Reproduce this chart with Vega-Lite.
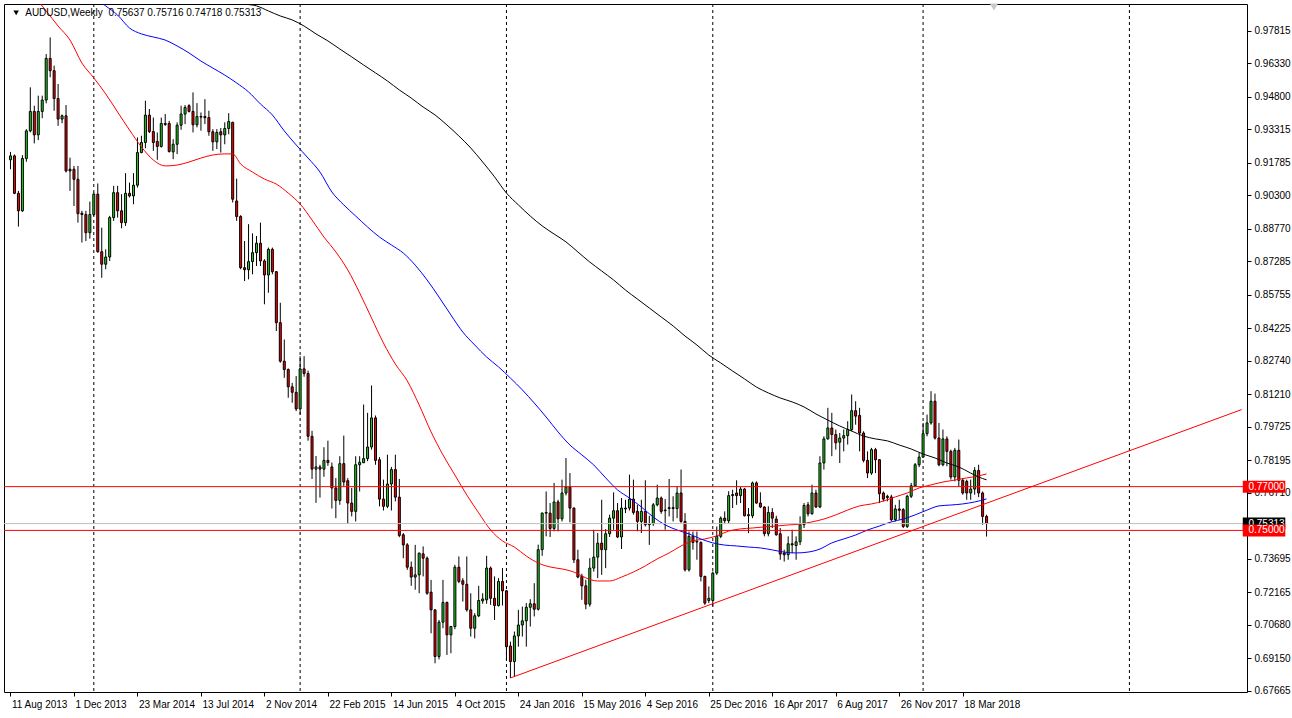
{
"$schema":"https://vega.github.io/schema/vega-lite/v6.json",
"width":1243,"height":688,
"autosize":{"type":"none"},
"padding":{"left":4,"top":4,"right":45,"bottom":26},
"background":"white",
"resolve":{"axis":{"x":"independent","y":"independent"}},
"config":{"view":{"stroke":"#000000","strokeWidth":1},"font":"Liberation Sans",
"axis":{"labelFont":"Liberation Sans","labelFontSize":10,"labelColor":"#000000","tickColor":"#000000","domain":false,"grid":false,"title":null}},
"datasets":{
"candles":[
{"d":"2013-08-11","o":0.9193,"h":0.9229,"l":0.915,"c":0.9211},
{"d":"2013-08-18","o":0.9211,"h":0.9217,"l":0.9036,"c":0.904},
{"d":"2013-08-25","o":0.904,"h":0.9051,"l":0.8888,"c":0.896},
{"d":"2013-09-01","o":0.896,"h":0.9214,"l":0.8955,"c":0.9199},
{"d":"2013-09-08","o":0.9199,"h":0.9333,"l":0.9184,"c":0.9325},
{"d":"2013-09-15","o":0.9325,"h":0.9524,"l":0.9318,"c":0.9414},
{"d":"2013-09-22","o":0.9414,"h":0.944,"l":0.9268,"c":0.9307},
{"d":"2013-09-29","o":0.9307,"h":0.9486,"l":0.9283,"c":0.9414},
{"d":"2013-10-06","o":0.9414,"h":0.9486,"l":0.9383,"c":0.9466},
{"d":"2013-10-13","o":0.9466,"h":0.9676,"l":0.9451,"c":0.9656},
{"d":"2013-10-20","o":0.9656,"h":0.9752,"l":0.957,"c":0.96},
{"d":"2013-10-27","o":0.96,"h":0.9623,"l":0.9417,"c":0.9473},
{"d":"2013-11-03","o":0.9473,"h":0.9539,"l":0.9348,"c":0.9379},
{"d":"2013-11-10","o":0.9379,"h":0.94,"l":0.936,"c":0.9394},
{"d":"2013-11-17","o":0.9394,"h":0.9443,"l":0.9135,"c":0.9142},
{"d":"2013-11-24","o":0.915,"h":0.9203,"l":0.9051,"c":0.9142},
{"d":"2013-12-01","o":0.915,"h":0.9165,"l":0.8982,"c":0.9104},
{"d":"2013-12-08","o":0.9104,"h":0.9165,"l":0.8906,"c":0.8947},
{"d":"2013-12-15","o":0.8949,"h":0.896,"l":0.8815,"c":0.8943},
{"d":"2013-12-22","o":0.8943,"h":0.896,"l":0.8822,"c":0.886},
{"d":"2013-12-29","o":0.886,"h":0.9002,"l":0.8833,"c":0.8943},
{"d":"2014-01-05","o":0.8943,"h":0.9043,"l":0.8937,"c":0.9036},
{"d":"2014-01-12","o":0.9036,"h":0.9085,"l":0.8769,"c":0.8773},
{"d":"2014-01-19","o":0.8773,"h":0.8883,"l":0.8654,"c":0.8716},
{"d":"2014-01-26","o":0.8716,"h":0.8784,"l":0.8693,"c":0.8749},
{"d":"2014-02-02","o":0.8749,"h":0.8937,"l":0.8731,"c":0.8929},
{"d":"2014-02-09","o":0.8929,"h":0.9074,"l":0.8914,"c":0.9043},
{"d":"2014-02-16","o":0.9043,"h":0.9074,"l":0.8929,"c":0.896},
{"d":"2014-02-23","o":0.896,"h":0.9036,"l":0.888,"c":0.8906},
{"d":"2014-03-02","o":0.8906,"h":0.9132,"l":0.8891,"c":0.904},
{"d":"2014-03-09","o":0.904,"h":0.9089,"l":0.9021,"c":0.9028},
{"d":"2014-03-16","o":0.9028,"h":0.9132,"l":0.899,"c":0.9077},
{"d":"2014-03-23","o":0.9077,"h":0.9295,"l":0.9066,"c":0.9226},
{"d":"2014-03-30","o":0.9226,"h":0.9303,"l":0.9223,"c":0.9272},
{"d":"2014-04-06","o":0.9272,"h":0.9463,"l":0.9246,"c":0.9397},
{"d":"2014-04-13","o":0.9397,"h":0.9425,"l":0.9315,"c":0.9322},
{"d":"2014-04-20","o":0.9322,"h":0.9386,"l":0.9234,"c":0.9272},
{"d":"2014-04-27","o":0.9277,"h":0.9318,"l":0.9193,"c":0.9254},
{"d":"2014-05-04","o":0.9254,"h":0.9386,"l":0.9249,"c":0.9359},
{"d":"2014-05-11","o":0.9354,"h":0.9402,"l":0.9348,"c":0.9359},
{"d":"2014-05-18","o":0.9359,"h":0.9371,"l":0.9226,"c":0.9231},
{"d":"2014-05-25","o":0.9229,"h":0.9287,"l":0.9196,"c":0.9264},
{"d":"2014-06-01","o":0.9264,"h":0.9364,"l":0.9219,"c":0.9351},
{"d":"2014-06-08","o":0.9351,"h":0.944,"l":0.933,"c":0.9402},
{"d":"2014-06-15","o":0.9402,"h":0.9443,"l":0.9356,"c":0.9432},
{"d":"2014-06-22","o":0.944,"h":0.9447,"l":0.9409,"c":0.9414},
{"d":"2014-06-29","o":0.9414,"h":0.9501,"l":0.9318,"c":0.9353},
{"d":"2014-07-06","o":0.9353,"h":0.9452,"l":0.9341,"c":0.9391},
{"d":"2014-07-13","o":0.9388,"h":0.9409,"l":0.9326,"c":0.9391},
{"d":"2014-07-20","o":0.9391,"h":0.947,"l":0.9356,"c":0.9385},
{"d":"2014-07-27","o":0.9386,"h":0.9417,"l":0.9303,"c":0.9321},
{"d":"2014-08-03","o":0.9321,"h":0.9333,"l":0.9234,"c":0.9275},
{"d":"2014-08-10","o":0.9275,"h":0.9333,"l":0.9242,"c":0.9318},
{"d":"2014-08-17","o":0.9321,"h":0.9338,"l":0.9226,"c":0.9307},
{"d":"2014-08-24","o":0.9307,"h":0.9364,"l":0.9264,"c":0.9336},
{"d":"2014-08-31","o":0.9336,"h":0.9406,"l":0.931,"c":0.9368},
{"d":"2014-09-07","o":0.9364,"h":0.9367,"l":0.8998,"c":0.9013},
{"d":"2014-09-14","o":0.9005,"h":0.9107,"l":0.8914,"c":0.8934},
{"d":"2014-09-21","o":0.8934,"h":0.894,"l":0.8693,"c":0.87},
{"d":"2014-09-28","o":0.87,"h":0.8822,"l":0.8639,"c":0.8691},
{"d":"2014-10-05","o":0.8691,"h":0.8899,"l":0.8647,"c":0.8728},
{"d":"2014-10-12","o":0.8728,"h":0.8857,"l":0.867,"c":0.8769},
{"d":"2014-10-19","o":0.8769,"h":0.8845,"l":0.8708,"c":0.8812},
{"d":"2014-10-26","o":0.8812,"h":0.8906,"l":0.8708,"c":0.8731},
{"d":"2014-11-02","o":0.8731,"h":0.8739,"l":0.8533,"c":0.8667},
{"d":"2014-11-09","o":0.8667,"h":0.8792,"l":0.8586,"c":0.8784},
{"d":"2014-11-16","o":0.8784,"h":0.8792,"l":0.867,"c":0.8682},
{"d":"2014-11-23","o":0.8682,"h":0.8685,"l":0.8411,"c":0.8449},
{"d":"2014-11-30","o":0.8449,"h":0.854,"l":0.8266,"c":0.8273},
{"d":"2014-12-07","o":0.8273,"h":0.8372,"l":0.8197,"c":0.8235},
{"d":"2014-12-14","o":0.8235,"h":0.824,"l":0.8106,"c":0.8156},
{"d":"2014-12-21","o":0.8156,"h":0.8174,"l":0.8083,"c":0.8131},
{"d":"2014-12-28","o":0.8131,"h":0.8205,"l":0.8045,"c":0.8055},
{"d":"2015-01-04","o":0.8055,"h":0.8296,"l":0.8029,"c":0.8238},
{"d":"2015-01-11","o":0.8238,"h":0.8296,"l":0.8202,"c":0.8217},
{"d":"2015-01-18","o":0.8217,"h":0.823,"l":0.791,"c":0.793},
{"d":"2015-01-25","o":0.793,"h":0.7955,"l":0.7735,"c":0.778},
{"d":"2015-02-01","o":0.778,"h":0.784,"l":0.7626,"c":0.779},
{"d":"2015-02-08","o":0.779,"h":0.78,"l":0.765,"c":0.778},
{"d":"2015-02-15","o":0.778,"h":0.788,"l":0.7745,"c":0.782},
{"d":"2015-02-22","o":0.782,"h":0.791,"l":0.7795,"c":0.781},
{"d":"2015-03-01","o":0.779,"h":0.781,"l":0.76,"c":0.7694},
{"d":"2015-03-08","o":0.7694,"h":0.7739,"l":0.7556,"c":0.7637},
{"d":"2015-03-15","o":0.7637,"h":0.7839,"l":0.7617,"c":0.7805},
{"d":"2015-03-22","o":0.7805,"h":0.7933,"l":0.7701,"c":0.7721},
{"d":"2015-03-29","o":0.7727,"h":0.7739,"l":0.753,"c":0.7625},
{"d":"2015-04-05","o":0.7625,"h":0.7694,"l":0.7564,"c":0.7587},
{"d":"2015-04-12","o":0.7587,"h":0.7839,"l":0.7541,"c":0.78},
{"d":"2015-04-19","o":0.78,"h":0.7839,"l":0.7678,"c":0.7811},
{"d":"2015-04-26","o":0.7809,"h":0.8075,"l":0.7808,"c":0.7828},
{"d":"2015-05-03","o":0.7828,"h":0.8037,"l":0.7816,"c":0.7881},
{"d":"2015-05-10","o":0.7881,"h":0.8162,"l":0.7869,"c":0.8014},
{"d":"2015-05-17","o":0.8014,"h":0.8025,"l":0.78,"c":0.782},
{"d":"2015-05-24","o":0.7823,"h":0.7835,"l":0.761,"c":0.7643},
{"d":"2015-05-31","o":0.7643,"h":0.7732,"l":0.7591,"c":0.761},
{"d":"2015-06-07","o":0.761,"h":0.7846,"l":0.7602,"c":0.7712},
{"d":"2015-06-14","o":0.7712,"h":0.779,"l":0.7591,"c":0.7778},
{"d":"2015-06-21","o":0.7778,"h":0.7846,"l":0.7633,"c":0.7652},
{"d":"2015-06-28","o":0.7652,"h":0.7735,"l":0.7469,"c":0.7477},
{"d":"2015-07-05","o":0.748,"h":0.7488,"l":0.7373,"c":0.7434},
{"d":"2015-07-12","o":0.7434,"h":0.7442,"l":0.732,"c":0.7332},
{"d":"2015-07-19","o":0.7332,"h":0.7358,"l":0.7247,"c":0.7287},
{"d":"2015-07-26","o":0.7287,"h":0.7434,"l":0.7229,"c":0.7297},
{"d":"2015-08-02","o":0.7297,"h":0.7399,"l":0.7213,"c":0.7396},
{"d":"2015-08-09","o":0.7393,"h":0.7427,"l":0.729,"c":0.7373},
{"d":"2015-08-16","o":0.7373,"h":0.7381,"l":0.7206,"c":0.7213},
{"d":"2015-08-23","o":0.7218,"h":0.7274,"l":0.703,"c":0.7137},
{"d":"2015-08-30","o":0.7137,"h":0.714,"l":0.6893,"c":0.6924},
{"d":"2015-09-06","o":0.6924,"h":0.7091,"l":0.6911,"c":0.7081},
{"d":"2015-09-13","o":0.7081,"h":0.7274,"l":0.7053,"c":0.7171},
{"d":"2015-09-20","o":0.7171,"h":0.7175,"l":0.6931,"c":0.7023},
{"d":"2015-09-27","o":0.7023,"h":0.7064,"l":0.6939,"c":0.7061},
{"d":"2015-10-04","o":0.7061,"h":0.7343,"l":0.7049,"c":0.7332},
{"d":"2015-10-11","o":0.7332,"h":0.7381,"l":0.7259,"c":0.7267},
{"d":"2015-10-18","o":0.727,"h":0.7282,"l":0.7175,"c":0.7254},
{"d":"2015-10-25","o":0.7254,"h":0.7381,"l":0.7129,"c":0.7137},
{"d":"2015-11-01","o":0.7137,"h":0.7213,"l":0.7015,"c":0.7053},
{"d":"2015-11-08","o":0.7053,"h":0.7122,"l":0.7007,"c":0.711},
{"d":"2015-11-15","o":0.711,"h":0.7247,"l":0.7104,"c":0.718},
{"d":"2015-11-22","o":0.7178,"h":0.7213,"l":0.7165,"c":0.7187},
{"d":"2015-11-29","o":0.7183,"h":0.7384,"l":0.7165,"c":0.7328},
{"d":"2015-12-06","o":0.7328,"h":0.7335,"l":0.716,"c":0.719},
{"d":"2015-12-13","o":0.719,"h":0.729,"l":0.7091,"c":0.7157},
{"d":"2015-12-20","o":0.7157,"h":0.7282,"l":0.7152,"c":0.7267},
{"d":"2015-12-27","o":0.7267,"h":0.7328,"l":0.7157,"c":0.7224},
{"d":"2016-01-03","o":0.7224,"h":0.7228,"l":0.6908,"c":0.6969},
{"d":"2016-01-10","o":0.6972,"h":0.6992,"l":0.6826,"c":0.6901},
{"d":"2016-01-17","o":0.6901,"h":0.7038,"l":0.6834,"c":0.7018},
{"d":"2016-01-24","o":0.7018,"h":0.7137,"l":0.6969,"c":0.7068},
{"d":"2016-01-31","o":0.7068,"h":0.7152,"l":0.7015,"c":0.7087},
{"d":"2016-02-07","o":0.7087,"h":0.7168,"l":0.6969,"c":0.7149},
{"d":"2016-02-14","o":0.7149,"h":0.7186,"l":0.7061,"c":0.7165},
{"d":"2016-02-21","o":0.7165,"h":0.7259,"l":0.7107,"c":0.714},
{"d":"2016-02-28","o":0.714,"h":0.7435,"l":0.7134,"c":0.7412},
{"d":"2016-03-06","o":0.7412,"h":0.7582,"l":0.7384,"c":0.7579},
{"d":"2016-03-13","o":0.7582,"h":0.7678,"l":0.7473,"c":0.7579},
{"d":"2016-03-20","o":0.7579,"h":0.7625,"l":0.747,"c":0.7509},
{"d":"2016-03-27","o":0.7509,"h":0.7717,"l":0.7496,"c":0.763},
{"d":"2016-04-03","o":0.763,"h":0.764,"l":0.7496,"c":0.7553},
{"d":"2016-04-10","o":0.7553,"h":0.7732,"l":0.7541,"c":0.7671},
{"d":"2016-04-17","o":0.7671,"h":0.7831,"l":0.766,"c":0.7698},
{"d":"2016-04-24","o":0.7698,"h":0.7762,"l":0.7537,"c":0.7602},
{"d":"2016-05-01","o":0.7602,"h":0.7605,"l":0.7351,"c":0.7366},
{"d":"2016-05-08","o":0.7366,"h":0.7412,"l":0.7282,"c":0.7287},
{"d":"2016-05-15","o":0.729,"h":0.7302,"l":0.7183,"c":0.7247},
{"d":"2016-05-22","o":0.7247,"h":0.7274,"l":0.714,"c":0.7163},
{"d":"2016-05-29","o":0.7163,"h":0.7373,"l":0.7152,"c":0.7328},
{"d":"2016-06-05","o":0.7328,"h":0.7503,"l":0.7312,"c":0.7378},
{"d":"2016-06-12","o":0.7378,"h":0.7488,"l":0.7282,"c":0.7442},
{"d":"2016-06-19","o":0.7442,"h":0.764,"l":0.7297,"c":0.7412},
{"d":"2016-06-26","o":0.7412,"h":0.7506,"l":0.7328,"c":0.7485},
{"d":"2016-07-03","o":0.7485,"h":0.7572,"l":0.747,"c":0.7556},
{"d":"2016-07-10","o":0.7556,"h":0.7674,"l":0.7503,"c":0.759},
{"d":"2016-07-17","o":0.759,"h":0.7625,"l":0.7465,"c":0.747},
{"d":"2016-07-24","o":0.747,"h":0.7648,"l":0.7415,"c":0.7602},
{"d":"2016-07-31","o":0.7598,"h":0.764,"l":0.7579,"c":0.7602},
{"d":"2016-08-07","o":0.7602,"h":0.7755,"l":0.7591,"c":0.7643},
{"d":"2016-08-14","o":0.7643,"h":0.7732,"l":0.7572,"c":0.7582},
{"d":"2016-08-21","o":0.7587,"h":0.7617,"l":0.7496,"c":0.7541},
{"d":"2016-08-28","o":0.7541,"h":0.764,"l":0.7488,"c":0.7587},
{"d":"2016-09-04","o":0.7587,"h":0.7729,"l":0.7518,"c":0.7526},
{"d":"2016-09-11","o":0.7526,"h":0.7567,"l":0.7434,"c":0.7531},
{"d":"2016-09-18","o":0.7531,"h":0.7625,"l":0.7521,"c":0.7617},
{"d":"2016-09-25","o":0.7617,"h":0.7709,"l":0.761,"c":0.7648},
{"d":"2016-10-02","o":0.7648,"h":0.7655,"l":0.7576,"c":0.7587},
{"d":"2016-10-09","o":0.759,"h":0.7643,"l":0.7503,"c":0.7593},
{"d":"2016-10-16","o":0.76,"h":0.7735,"l":0.7564,"c":0.7604},
{"d":"2016-10-23","o":0.7604,"h":0.7656,"l":0.7541,"c":0.76},
{"d":"2016-10-30","o":0.76,"h":0.7701,"l":0.7556,"c":0.7671},
{"d":"2016-11-06","o":0.7671,"h":0.7778,"l":0.7535,"c":0.7541},
{"d":"2016-11-13","o":0.7541,"h":0.7579,"l":0.7312,"c":0.732},
{"d":"2016-11-20","o":0.732,"h":0.7495,"l":0.7312,"c":0.7473},
{"d":"2016-11-27","o":0.7473,"h":0.7495,"l":0.7412,"c":0.7445},
{"d":"2016-12-04","o":0.7447,"h":0.7495,"l":0.7366,"c":0.745},
{"d":"2016-12-11","o":0.7445,"h":0.745,"l":0.7267,"c":0.729},
{"d":"2016-12-18","o":0.729,"h":0.7293,"l":0.716,"c":0.7168},
{"d":"2016-12-25","o":0.718,"h":0.7244,"l":0.7168,"c":0.719},
{"d":"2017-01-01","o":0.718,"h":0.7312,"l":0.7155,"c":0.7305},
{"d":"2017-01-08","o":0.7305,"h":0.7518,"l":0.7297,"c":0.7473},
{"d":"2017-01-15","o":0.7473,"h":0.7564,"l":0.7465,"c":0.7556},
{"d":"2017-01-22","o":0.7556,"h":0.7587,"l":0.7533,"c":0.7544},
{"d":"2017-01-29","o":0.7544,"h":0.7679,"l":0.7533,"c":0.7659},
{"d":"2017-02-05","o":0.7659,"h":0.7686,"l":0.7602,"c":0.7664},
{"d":"2017-02-12","o":0.7671,"h":0.7729,"l":0.7617,"c":0.7659},
{"d":"2017-02-19","o":0.7659,"h":0.7698,"l":0.7625,"c":0.7689},
{"d":"2017-02-26","o":0.7689,"h":0.7694,"l":0.7564,"c":0.7567},
{"d":"2017-03-05","o":0.7567,"h":0.7602,"l":0.7488,"c":0.7572},
{"d":"2017-03-12","o":0.7567,"h":0.7723,"l":0.7556,"c":0.7717},
{"d":"2017-03-19","o":0.7717,"h":0.7724,"l":0.7622,"c":0.7625},
{"d":"2017-03-26","o":0.7625,"h":0.7674,"l":0.7602,"c":0.7607},
{"d":"2017-04-02","o":0.7607,"h":0.761,"l":0.7473,"c":0.7485},
{"d":"2017-04-09","o":0.7485,"h":0.761,"l":0.7473,"c":0.7582},
{"d":"2017-04-16","o":0.7582,"h":0.7602,"l":0.7511,"c":0.7556},
{"d":"2017-04-23","o":0.7552,"h":0.7567,"l":0.7476,"c":0.748},
{"d":"2017-04-30","o":0.7485,"h":0.7511,"l":0.7366,"c":0.7392},
{"d":"2017-05-07","o":0.7397,"h":0.7412,"l":0.7358,"c":0.7389},
{"d":"2017-05-14","o":0.7389,"h":0.7473,"l":0.7366,"c":0.7439},
{"d":"2017-05-21","o":0.7439,"h":0.7503,"l":0.7396,"c":0.7434},
{"d":"2017-05-28","o":0.7431,"h":0.7473,"l":0.7366,"c":0.7448},
{"d":"2017-06-04","o":0.7448,"h":0.7564,"l":0.7433,"c":0.7526},
{"d":"2017-06-11","o":0.7526,"h":0.7625,"l":0.7511,"c":0.7614},
{"d":"2017-06-18","o":0.7617,"h":0.763,"l":0.7564,"c":0.7576},
{"d":"2017-06-25","o":0.7576,"h":0.7709,"l":0.7572,"c":0.7671},
{"d":"2017-07-02","o":0.7671,"h":0.7686,"l":0.7602,"c":0.7607},
{"d":"2017-07-09","o":0.7607,"h":0.7839,"l":0.7602,"c":0.7808},
{"d":"2017-07-16","o":0.7808,"h":0.793,"l":0.7778,"c":0.7918},
{"d":"2017-07-23","o":0.7918,"h":0.806,"l":0.7915,"c":0.7968},
{"d":"2017-07-30","o":0.7968,"h":0.8037,"l":0.7839,"c":0.7938},
{"d":"2017-08-06","o":0.7938,"h":0.7961,"l":0.7869,"c":0.79},
{"d":"2017-08-13","o":0.7903,"h":0.7945,"l":0.7808,"c":0.7922},
{"d":"2017-08-20","o":0.7922,"h":0.7961,"l":0.7861,"c":0.7933},
{"d":"2017-08-27","o":0.7933,"h":0.7999,"l":0.7892,"c":0.7961},
{"d":"2017-09-03","o":0.7961,"h":0.8121,"l":0.7953,"c":0.8047},
{"d":"2017-09-10","o":0.8047,"h":0.809,"l":0.7983,"c":0.8022},
{"d":"2017-09-17","o":0.8025,"h":0.806,"l":0.7861,"c":0.7945},
{"d":"2017-09-24","o":0.7945,"h":0.7953,"l":0.7811,"c":0.782},
{"d":"2017-10-01","o":0.782,"h":0.7861,"l":0.7739,"c":0.7762},
{"d":"2017-10-08","o":0.7762,"h":0.7877,"l":0.7754,"c":0.7869},
{"d":"2017-10-15","o":0.7869,"h":0.7877,"l":0.7762,"c":0.7823},
{"d":"2017-10-22","o":0.7823,"h":0.7826,"l":0.7625,"c":0.7668},
{"d":"2017-10-29","o":0.7671,"h":0.7678,"l":0.7633,"c":0.7643},
{"d":"2017-11-05","o":0.765,"h":0.7663,"l":0.7633,"c":0.7656},
{"d":"2017-11-12","o":0.7653,"h":0.7663,"l":0.7541,"c":0.7549},
{"d":"2017-11-19","o":0.7549,"h":0.7617,"l":0.7541,"c":0.7598},
{"d":"2017-11-26","o":0.7598,"h":0.764,"l":0.7549,"c":0.7592},
{"d":"2017-12-03","o":0.7595,"h":0.7602,"l":0.7511,"c":0.7518},
{"d":"2017-12-10","o":0.7518,"h":0.7663,"l":0.7511,"c":0.7656},
{"d":"2017-12-17","o":0.7656,"h":0.7717,"l":0.7648,"c":0.7704},
{"d":"2017-12-24","o":0.7704,"h":0.7808,"l":0.7701,"c":0.78},
{"d":"2017-12-31","o":0.78,"h":0.7854,"l":0.7789,"c":0.7835},
{"d":"2018-01-07","o":0.7835,"h":0.7991,"l":0.7831,"c":0.7942},
{"d":"2018-01-14","o":0.7942,"h":0.8029,"l":0.793,"c":0.7991},
{"d":"2018-01-21","o":0.7991,"h":0.8136,"l":0.7983,"c":0.809},
{"d":"2018-01-28","o":0.809,"h":0.8125,"l":0.7915,"c":0.7922},
{"d":"2018-02-04","o":0.7922,"h":0.7991,"l":0.7793,"c":0.78},
{"d":"2018-02-11","o":0.78,"h":0.7961,"l":0.7793,"c":0.7918},
{"d":"2018-02-18","o":0.7918,"h":0.793,"l":0.7793,"c":0.7861},
{"d":"2018-02-25","o":0.7861,"h":0.7869,"l":0.7732,"c":0.7744},
{"d":"2018-03-04","o":0.7744,"h":0.7877,"l":0.7724,"c":0.7866},
{"d":"2018-03-11","o":0.7866,"h":0.7915,"l":0.7701,"c":0.7729},
{"d":"2018-03-18","o":0.7729,"h":0.7739,"l":0.7663,"c":0.7671},
{"d":"2018-03-25","o":0.7724,"h":0.7732,"l":0.764,"c":0.7671},
{"d":"2018-04-01","o":0.7671,"h":0.7732,"l":0.764,"c":0.7689},
{"d":"2018-04-08","o":0.7689,"h":0.7789,"l":0.7663,"c":0.7774},
{"d":"2018-04-15","o":0.7774,"h":0.78,"l":0.7652,"c":0.7671},
{"d":"2018-04-22","o":0.7671,"h":0.7678,"l":0.7526,"c":0.7564},
{"d":"2018-04-29","o":0.75637,"h":0.75716,"l":0.74718,"c":0.75313}
],
"ma":[
{"s":"a","d":"2013-09-22","v":0.9941},{"s":"a","d":"2013-10-13","v":0.9873},{"s":"a","d":"2013-11-03","v":0.9804},{"s":"a","d":"2013-11-24","v":0.974},{"s":"a","d":"2013-12-15","v":0.9635},{"s":"a","d":"2014-01-05","v":0.9567},{"s":"a","d":"2014-01-26","v":0.9494},{"s":"a","d":"2014-02-16","v":0.9411},{"s":"a","d":"2014-03-09","v":0.9329},{"s":"a","d":"2014-03-30","v":0.9252},{"s":"a","d":"2014-04-20","v":0.9192},{"s":"a","d":"2014-05-11","v":0.9165},{"s":"a","d":"2014-06-01","v":0.9169},{"s":"a","d":"2014-06-22","v":0.9183},{"s":"a","d":"2014-07-13","v":0.9201},{"s":"a","d":"2014-08-03","v":0.9215},{"s":"a","d":"2014-08-24","v":0.922},{"s":"a","d":"2014-09-07","v":0.922},{"s":"a","d":"2014-09-21","v":0.9174},{"s":"a","d":"2014-10-12","v":0.9137},{"s":"a","d":"2014-11-02","v":0.9105},{"s":"a","d":"2014-11-23","v":0.9082},{"s":"a","d":"2014-12-14","v":0.9041},{"s":"a","d":"2015-01-04","v":0.8991},{"s":"a","d":"2015-01-25","v":0.8918},{"s":"a","d":"2015-02-15","v":0.884},{"s":"a","d":"2015-03-08","v":0.8772},{"s":"a","d":"2015-03-29","v":0.869},{"s":"a","d":"2015-04-19","v":0.8585},{"s":"a","d":"2015-05-10","v":0.847},{"s":"a","d":"2015-05-31","v":0.8356},{"s":"a","d":"2015-06-21","v":0.826},{"s":"a","d":"2015-07-12","v":0.8183},{"s":"a","d":"2015-08-02","v":0.8073},{"s":"a","d":"2015-08-23","v":0.795},{"s":"a","d":"2015-09-13","v":0.7845},{"s":"a","d":"2015-10-04","v":0.7753},{"s":"a","d":"2015-10-25","v":0.7662},{"s":"a","d":"2015-11-15","v":0.758},{"s":"a","d":"2015-12-06","v":0.7502},{"s":"a","d":"2015-12-27","v":0.7452},{"s":"a","d":"2016-01-17","v":0.7424},{"s":"a","d":"2016-02-07","v":0.7383},{"s":"a","d":"2016-02-28","v":0.7351},{"s":"a","d":"2016-03-20","v":0.7333},{"s":"a","d":"2016-04-10","v":0.7324},{"s":"a","d":"2016-05-01","v":0.731},{"s":"a","d":"2016-05-22","v":0.7283},{"s":"a","d":"2016-06-12","v":0.7269},{"s":"a","d":"2016-07-03","v":0.7269},{"s":"a","d":"2016-07-24","v":0.7287},{"s":"a","d":"2016-08-14","v":0.731},{"s":"a","d":"2016-09-04","v":0.7338},{"s":"a","d":"2016-09-25","v":0.737},{"s":"a","d":"2016-10-16","v":0.7397},{"s":"a","d":"2016-11-06","v":0.7429},{"s":"a","d":"2016-11-27","v":0.7452},{"s":"a","d":"2016-12-18","v":0.7461},{"s":"a","d":"2017-01-08","v":0.7475},{"s":"a","d":"2017-01-29","v":0.7497},{"s":"a","d":"2017-02-19","v":0.7507},{"s":"a","d":"2017-03-12","v":0.7511},{"s":"a","d":"2017-04-02","v":0.7516},{"s":"a","d":"2017-04-23","v":0.752},{"s":"a","d":"2017-05-14","v":0.7525},{"s":"a","d":"2017-06-04","v":0.7529},{"s":"a","d":"2017-06-25","v":0.7539},{"s":"a","d":"2017-07-16","v":0.7552},{"s":"a","d":"2017-08-06","v":0.7571},{"s":"a","d":"2017-08-27","v":0.7593},{"s":"a","d":"2017-09-17","v":0.7612},{"s":"a","d":"2017-10-08","v":0.7621},{"s":"a","d":"2017-10-29","v":0.7634},{"s":"a","d":"2017-11-19","v":0.7653},{"s":"a","d":"2017-12-10","v":0.7671},{"s":"a","d":"2017-12-31","v":0.7694},{"s":"a","d":"2018-01-21","v":0.7708},{"s":"a","d":"2018-02-11","v":0.7721},{"s":"a","d":"2018-03-04","v":0.773},{"s":"a","d":"2018-03-25","v":0.774},{"s":"a","d":"2018-04-15","v":0.7749},{"s":"a","d":"2018-04-29","v":0.7758},
{"s":"b","d":"2014-01-05","v":0.9937},{"s":"b","d":"2014-01-26","v":0.9896},{"s":"b","d":"2014-02-16","v":0.9854},{"s":"b","d":"2014-03-09","v":0.9795},{"s":"b","d":"2014-03-30","v":0.9768},{"s":"b","d":"2014-04-20","v":0.9754},{"s":"b","d":"2014-05-11","v":0.974},{"s":"b","d":"2014-06-01","v":0.9713},{"s":"b","d":"2014-06-22","v":0.9681},{"s":"b","d":"2014-07-13","v":0.9644},{"s":"b","d":"2014-08-03","v":0.9612},{"s":"b","d":"2014-08-24","v":0.958},{"s":"b","d":"2014-09-14","v":0.9544},{"s":"b","d":"2014-10-05","v":0.9503},{"s":"b","d":"2014-10-26","v":0.9448},{"s":"b","d":"2014-11-16","v":0.9398},{"s":"b","d":"2014-12-07","v":0.9325},{"s":"b","d":"2014-12-28","v":0.9261},{"s":"b","d":"2015-01-18","v":0.9201},{"s":"b","d":"2015-02-08","v":0.9137},{"s":"b","d":"2015-03-01","v":0.9046},{"s":"b","d":"2015-03-22","v":0.8987},{"s":"b","d":"2015-04-12","v":0.8936},{"s":"b","d":"2015-05-03","v":0.8886},{"s":"b","d":"2015-05-24","v":0.884},{"s":"b","d":"2015-06-14","v":0.8804},{"s":"b","d":"2015-07-05","v":0.8767},{"s":"b","d":"2015-07-26","v":0.8712},{"s":"b","d":"2015-08-16","v":0.8644},{"s":"b","d":"2015-09-06","v":0.8566},{"s":"b","d":"2015-09-27","v":0.8484},{"s":"b","d":"2015-10-18","v":0.8406},{"s":"b","d":"2015-11-08","v":0.8347},{"s":"b","d":"2015-11-29","v":0.8292},{"s":"b","d":"2015-12-20","v":0.8247},{"s":"b","d":"2016-01-10","v":0.8196},{"s":"b","d":"2016-01-31","v":0.8142},{"s":"b","d":"2016-02-21","v":0.8082},{"s":"b","d":"2016-03-13","v":0.8018},{"s":"b","d":"2016-04-03","v":0.795},{"s":"b","d":"2016-04-24","v":0.789},{"s":"b","d":"2016-05-15","v":0.7845},{"s":"b","d":"2016-06-05","v":0.7799},{"s":"b","d":"2016-06-26","v":0.774},{"s":"b","d":"2016-07-17","v":0.7685},{"s":"b","d":"2016-08-07","v":0.7648},{"s":"b","d":"2016-08-28","v":0.7607},{"s":"b","d":"2016-09-18","v":0.7561},{"s":"b","d":"2016-10-09","v":0.7525},{"s":"b","d":"2016-10-30","v":0.7502},{"s":"b","d":"2016-11-20","v":0.7484},{"s":"b","d":"2016-12-11","v":0.7461},{"s":"b","d":"2017-01-01","v":0.7443},{"s":"b","d":"2017-01-22","v":0.7433},{"s":"b","d":"2017-02-12","v":0.7429},{"s":"b","d":"2017-03-05","v":0.7424},{"s":"b","d":"2017-03-26","v":0.742},{"s":"b","d":"2017-04-16","v":0.7411},{"s":"b","d":"2017-05-07","v":0.7401},{"s":"b","d":"2017-05-28","v":0.7397},{"s":"b","d":"2017-06-18","v":0.7401},{"s":"b","d":"2017-07-09","v":0.7415},{"s":"b","d":"2017-07-30","v":0.7443},{"s":"b","d":"2017-08-20","v":0.7461},{"s":"b","d":"2017-09-10","v":0.7479},{"s":"b","d":"2017-10-01","v":0.7502},{"s":"b","d":"2017-10-22","v":0.752},{"s":"b","d":"2017-11-12","v":0.7539},{"s":"b","d":"2017-12-03","v":0.7552},{"s":"b","d":"2017-12-24","v":0.7571},{"s":"b","d":"2018-01-14","v":0.7593},{"s":"b","d":"2018-02-04","v":0.7612},{"s":"b","d":"2018-02-25","v":0.7616},{"s":"b","d":"2018-03-18","v":0.7621},{"s":"b","d":"2018-04-08","v":0.763},{"s":"b","d":"2018-04-29","v":0.7644},
{"s":"c","d":"2014-08-17","v":0.9932},{"s":"c","d":"2014-09-07","v":0.9918},{"s":"c","d":"2014-09-28","v":0.9905},{"s":"c","d":"2014-10-19","v":0.9896},{"s":"c","d":"2014-11-09","v":0.9873},{"s":"c","d":"2014-11-30","v":0.985},{"s":"c","d":"2014-12-21","v":0.9832},{"s":"c","d":"2015-01-11","v":0.9804},{"s":"c","d":"2015-02-01","v":0.9768},{"s":"c","d":"2015-02-22","v":0.9736},{"s":"c","d":"2015-03-15","v":0.9699},{"s":"c","d":"2015-04-05","v":0.9663},{"s":"c","d":"2015-04-26","v":0.9626},{"s":"c","d":"2015-05-17","v":0.959},{"s":"c","d":"2015-06-07","v":0.9553},{"s":"c","d":"2015-06-28","v":0.9512},{"s":"c","d":"2015-07-19","v":0.9475},{"s":"c","d":"2015-08-09","v":0.9434},{"s":"c","d":"2015-08-30","v":0.9398},{"s":"c","d":"2015-09-20","v":0.9352},{"s":"c","d":"2015-10-11","v":0.9302},{"s":"c","d":"2015-11-01","v":0.9247},{"s":"c","d":"2015-11-22","v":0.9183},{"s":"c","d":"2015-12-13","v":0.9115},{"s":"c","d":"2016-01-03","v":0.9041},{"s":"c","d":"2016-01-24","v":0.8987},{"s":"c","d":"2016-02-14","v":0.8936},{"s":"c","d":"2016-03-06","v":0.8891},{"s":"c","d":"2016-03-27","v":0.8854},{"s":"c","d":"2016-04-17","v":0.8818},{"s":"c","d":"2016-05-08","v":0.8772},{"s":"c","d":"2016-05-29","v":0.8726},{"s":"c","d":"2016-06-19","v":0.8685},{"s":"c","d":"2016-07-10","v":0.8644},{"s":"c","d":"2016-07-31","v":0.8598},{"s":"c","d":"2016-08-21","v":0.8557},{"s":"c","d":"2016-09-11","v":0.8516},{"s":"c","d":"2016-10-02","v":0.8475},{"s":"c","d":"2016-10-23","v":0.8434},{"s":"c","d":"2016-11-13","v":0.8388},{"s":"c","d":"2016-12-04","v":0.8347},{"s":"c","d":"2016-12-25","v":0.8301},{"s":"c","d":"2017-01-15","v":0.8265},{"s":"c","d":"2017-02-05","v":0.8228},{"s":"c","d":"2017-02-26","v":0.8192},{"s":"c","d":"2017-03-19","v":0.8155},{"s":"c","d":"2017-04-09","v":0.8128},{"s":"c","d":"2017-04-30","v":0.8105},{"s":"c","d":"2017-05-21","v":0.8087},{"s":"c","d":"2017-06-11","v":0.8064},{"s":"c","d":"2017-07-02","v":0.8032},{"s":"c","d":"2017-07-23","v":0.8004},{"s":"c","d":"2017-08-13","v":0.7977},{"s":"c","d":"2017-09-03","v":0.7954},{"s":"c","d":"2017-09-24","v":0.7931},{"s":"c","d":"2017-10-15","v":0.7918},{"s":"c","d":"2017-11-05","v":0.7909},{"s":"c","d":"2017-11-26","v":0.789},{"s":"c","d":"2017-12-17","v":0.7872},{"s":"c","d":"2018-01-07","v":0.7849},{"s":"c","d":"2018-01-28","v":0.7831},{"s":"c","d":"2018-02-18","v":0.7808},{"s":"c","d":"2018-03-11","v":0.779},{"s":"c","d":"2018-04-01","v":0.7762},{"s":"c","d":"2018-04-15","v":0.7744},{"s":"c","d":"2018-04-29","v":0.7731}
],
"seps":[{"d":"2014-01-05"},{"d":"2015-01-04"},{"d":"2016-01-03"},{"d":"2017-01-01"},{"d":"2018-01-07"},{"d":"2019-01-06"}],
"trend":[{"d":"2016-01-10","v":0.6826},{"d":"2019-07-23","v":0.8052}],
"levels":[{"v":0.77,"t":"0.77000"},{"v":0.75,"t":"0.75000"}],
"bid":[{"v":0.75313,"t":"0.75313"}],
"header":[{"t":"AUDUSD,Weekly\u00a0 0.75637 0.75716 0.74718 0.75313"}]
},
"layer":[
{"data":{"name":"seps"},"mark":{"type":"rule","color":"#000000","strokeWidth":1,"strokeDash":[3,3]},
 "encoding":{"x":{"field":"d","type":"temporal","scale":{"type":"utc","nice":false,"domain":[{"year":2013,"month":8,"date":8,"hours":9,"utc":true},{"year":2019,"month":7,"date":23,"hours":15,"utc":true}]},"axis":null}}},
{"data":{"name":"candles"},"mark":{"type":"rule","color":"#000000","strokeWidth":1},
 "encoding":{
  "x":{"field":"d","type":"temporal","scale":{"type":"utc","nice":false,"domain":[{"year":2013,"month":8,"date":8,"hours":9,"utc":true},{"year":2019,"month":7,"date":23,"hours":15,"utc":true}]},
   "axis":{"orient":"bottom","title":null,"labelExpr":"utcFormat(datum.value, '%-d %b %Y')","labelAlign":"left","labelBaseline":"top","tickSize":4,"labelPadding":3,"labelOffset":1,"labelOverlap":false,"labelFlush":false,"labelBound":false,
    "values":[{"year":2013,"month":8,"date":11,"utc":true},{"year":2013,"month":12,"date":1,"utc":true},{"year":2014,"month":3,"date":23,"utc":true},{"year":2014,"month":7,"date":13,"utc":true},{"year":2014,"month":11,"date":2,"utc":true},{"year":2015,"month":2,"date":22,"utc":true},{"year":2015,"month":6,"date":14,"utc":true},{"year":2015,"month":10,"date":4,"utc":true},{"year":2016,"month":1,"date":24,"utc":true},{"year":2016,"month":5,"date":15,"utc":true},{"year":2016,"month":9,"date":4,"utc":true},{"year":2016,"month":12,"date":25,"utc":true},{"year":2017,"month":4,"date":16,"utc":true},{"year":2017,"month":8,"date":6,"utc":true},{"year":2017,"month":11,"date":26,"utc":true},{"year":2018,"month":3,"date":18,"utc":true}]}},
  "y":{"field":"l","type":"quantitative","scale":{"domain":[0.67619,0.99047],"zero":false,"nice":false},
   "axis":{"orient":"right","title":null,"format":".5f","tickSize":4,"labelPadding":3,"labelAlign":"left","labelBaseline":"middle","labelOverlap":false,"labelFlush":false,"labelBound":false,
    "values":[0.97815,0.9633,0.948,0.93315,0.91785,0.903,0.8877,0.87285,0.85755,0.84225,0.8274,0.8121,0.79725,0.78195,0.7671,0.73695,0.72165,0.7068,0.6915,0.67665]}},
  "y2":{"field":"h"}}},
{"data":{"name":"candles"},"mark":{"type":"bar","width":2,"stroke":"#000000","strokeWidth":1},
 "encoding":{
  "x":{"field":"d","type":"temporal","scale":{"type":"utc","nice":false,"domain":[{"year":2013,"month":8,"date":8,"hours":9,"utc":true},{"year":2019,"month":7,"date":23,"hours":15,"utc":true}]},"axis":null},
  "y":{"field":"o","type":"quantitative","scale":{"domain":[0.67619,0.99047],"zero":false,"nice":false},"axis":null},
  "y2":{"field":"c"},
  "fill":{"condition":{"test":"datum.c >= datum.o","value":"#1ed21e"},"value":"#ff0000"}}},
{"data":{"name":"ma"},"mark":{"type":"line","strokeWidth":1,"clip":true,"interpolate":"monotone"},
 "encoding":{
  "x":{"field":"d","type":"temporal","scale":{"type":"utc","nice":false,"domain":[{"year":2013,"month":8,"date":8,"hours":9,"utc":true},{"year":2019,"month":7,"date":23,"hours":15,"utc":true}]},"axis":null},
  "y":{"field":"v","type":"quantitative","scale":{"domain":[0.67619,0.99047],"zero":false,"nice":false},"axis":null},
  "color":{"field":"s","type":"nominal","scale":{"domain":["a","b","c"],"range":["#ff0000","#0000ff","#000000"]},"legend":null}}},
{"data":{"name":"bid"},"mark":{"type":"rule","color":"#c0c0c0","strokeWidth":1},
 "encoding":{"y":{"field":"v","type":"quantitative","scale":{"domain":[0.67619,0.99047],"zero":false,"nice":false},"axis":null}}},
{"data":{"name":"levels"},"mark":{"type":"rule","color":"#ff0000","strokeWidth":1},
 "encoding":{"y":{"field":"v","type":"quantitative","scale":{"domain":[0.67619,0.99047],"zero":false,"nice":false},"axis":null}}},
{"data":{"name":"trend"},"mark":{"type":"line","color":"#ff0000","strokeWidth":1,"clip":true},
 "encoding":{
  "x":{"field":"d","type":"temporal","scale":{"type":"utc","nice":false,"domain":[{"year":2013,"month":8,"date":8,"hours":9,"utc":true},{"year":2019,"month":7,"date":23,"hours":15,"utc":true}]},"axis":null},
  "y":{"field":"v","type":"quantitative","scale":{"domain":[0.67619,0.99047],"zero":false,"nice":false},"axis":null}}},
{"data":{"name":"bid"},"mark":{"type":"rect","height":12,"color":"#000000"},
 "encoding":{
  "x":{"datum":{"year":2019,"month":7,"date":25,"utc":true},"type":"temporal","scale":{"type":"utc","nice":false,"domain":[{"year":2013,"month":8,"date":8,"hours":9,"utc":true},{"year":2019,"month":7,"date":23,"hours":15,"utc":true}]},"axis":null},
  "x2":{"datum":{"year":2019,"month":10,"date":8,"utc":true}},
  "y":{"field":"v","type":"quantitative","scale":{"domain":[0.67619,0.99047],"zero":false,"nice":false},"axis":null}}},
{"data":{"name":"bid"},"mark":{"type":"text","align":"left","baseline":"middle","fontSize":10,"font":"Liberation Sans","color":"#ffffff"},
 "encoding":{
  "x":{"datum":{"year":2019,"month":8,"date":4,"utc":true},"type":"temporal","scale":{"type":"utc","nice":false,"domain":[{"year":2013,"month":8,"date":8,"hours":9,"utc":true},{"year":2019,"month":7,"date":23,"hours":15,"utc":true}]},"axis":null},
  "y":{"field":"v","type":"quantitative","scale":{"domain":[0.67619,0.99047],"zero":false,"nice":false},"axis":null},
  "text":{"field":"t"}}},
{"data":{"name":"levels"},"mark":{"type":"rect","height":12,"color":"#ff0000"},
 "encoding":{
  "x":{"datum":{"year":2019,"month":7,"date":25,"utc":true},"type":"temporal","scale":{"type":"utc","nice":false,"domain":[{"year":2013,"month":8,"date":8,"hours":9,"utc":true},{"year":2019,"month":7,"date":23,"hours":15,"utc":true}]},"axis":null},
  "x2":{"datum":{"year":2019,"month":10,"date":8,"utc":true}},
  "y":{"field":"v","type":"quantitative","scale":{"domain":[0.67619,0.99047],"zero":false,"nice":false},"axis":null}}},
{"data":{"name":"levels"},"mark":{"type":"text","align":"left","baseline":"middle","fontSize":10,"font":"Liberation Sans","color":"#ffffff"},
 "encoding":{
  "x":{"datum":{"year":2019,"month":8,"date":4,"utc":true},"type":"temporal","scale":{"type":"utc","nice":false,"domain":[{"year":2013,"month":8,"date":8,"hours":9,"utc":true},{"year":2019,"month":7,"date":23,"hours":15,"utc":true}]},"axis":null},
  "y":{"field":"v","type":"quantitative","scale":{"domain":[0.67619,0.99047],"zero":false,"nice":false},"axis":null},
  "text":{"field":"t"}}},
{"data":{"name":"header"},"mark":{"type":"text","align":"left","baseline":"middle","fontSize":10,"font":"Liberation Sans","color":"#000000"},
 "encoding":{
  "x":{"datum":{"year":2013,"month":9,"date":6,"utc":true},"type":"temporal","scale":{"type":"utc","nice":false,"domain":[{"year":2013,"month":8,"date":8,"hours":9,"utc":true},{"year":2019,"month":7,"date":23,"hours":15,"utc":true}]},"axis":null},
  "y":{"datum":0.9864,"type":"quantitative","scale":{"domain":[0.67619,0.99047],"zero":false,"nice":false},"axis":null},
  "text":{"field":"t"}}},
{"data":{"name":"header"},"mark":{"type":"point","shape":"triangle-down","filled":true,"size":30,"color":"#000000","opacity":1},
 "encoding":{
  "x":{"datum":{"year":2013,"month":8,"date":21,"utc":true},"type":"temporal","scale":{"type":"utc","nice":false,"domain":[{"year":2013,"month":8,"date":8,"hours":9,"utc":true},{"year":2019,"month":7,"date":23,"hours":15,"utc":true}]},"axis":null},
  "y":{"datum":0.9864,"type":"quantitative","scale":{"domain":[0.67619,0.99047],"zero":false,"nice":false},"axis":null}}},
{"data":{"name":"header"},"mark":{"type":"point","shape":"triangle-down","filled":true,"size":70,"color":"#c8c8c8","opacity":1},
 "encoding":{
  "x":{"datum":{"year":2018,"month":5,"date":12,"utc":true},"type":"temporal","scale":{"type":"utc","nice":false,"domain":[{"year":2013,"month":8,"date":8,"hours":9,"utc":true},{"year":2019,"month":7,"date":23,"hours":15,"utc":true}]},"axis":null},
  "y":{"datum":0.9891,"type":"quantitative","scale":{"domain":[0.67619,0.99047],"zero":false,"nice":false},"axis":null}}}
]
}
